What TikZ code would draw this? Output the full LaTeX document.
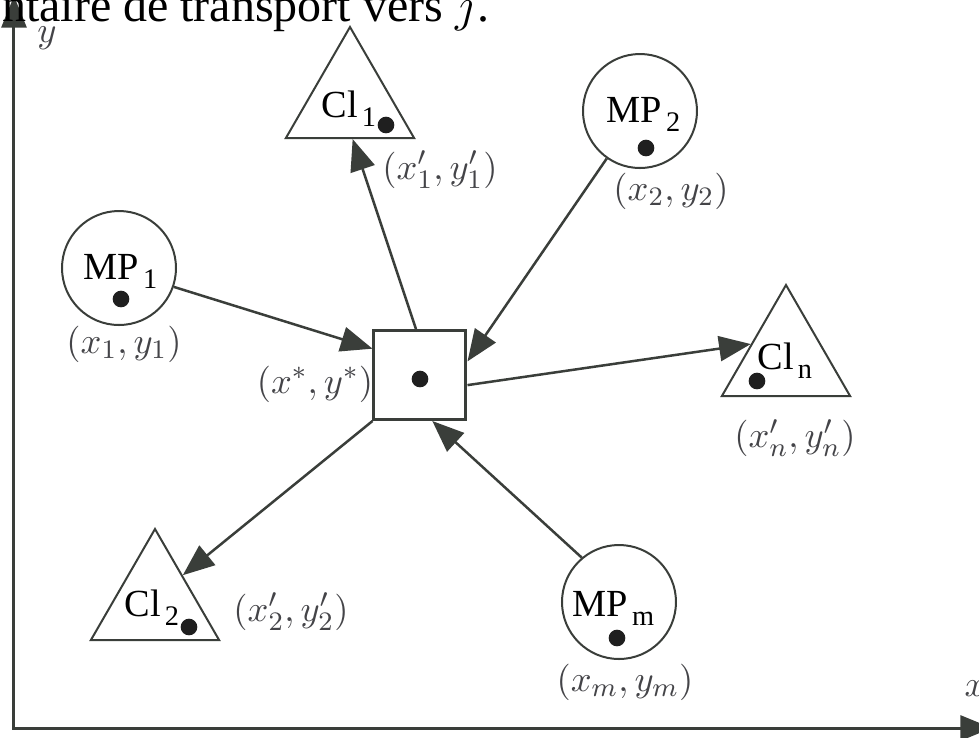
\documentclass[tikz,border=0pt]{standalone}
\usepackage{amsmath}
\usepackage[no-math]{fontspec}
\setmainfont{Liberation Serif}
\usetikzlibrary{arrows.meta, shapes.geometric, positioning}
\definecolor{strokegray}{RGB}{58,62,58}
\definecolor{labelgray}{RGB}{68,68,72}
\newcommand{\lowsub}[1]{\kern1.2pt\raisebox{-0.25em}{\fontsize{8.5}{9}\selectfont #1}}

\begin{document}
\begin{tikzpicture}[x=0.3pt, y=-0.3pt, >={Triangle[length=9.5pt,width=7.5pt]},
    site/.style={circle, draw=strokegray, line width=0.6pt, minimum size=34.2pt, inner sep=0pt},
    client/.style={regular polygon, regular polygon sides=3, draw=strokegray, line width=0.6pt, minimum size=44.4pt, inner sep=0pt},
    depot/.style={rectangle, draw=strokegray, line width=0.9pt, minimum width=27.6pt, minimum height=26.7pt, inner sep=0pt},
    spot/.style={circle, fill=black!88, inner sep=0pt, minimum size=5pt},
    tag/.style={font=\fontsize{11.5}{13}\selectfont, inner sep=0pt, anchor=base west},
    coordlabel/.style={font=\fontsize{10.95}{12}\selectfont, text=labelgray, inner sep=0pt},
    flow/.style={->, draw=strokegray, line width=0.75pt}]
    \useasboundingbox (0,0) rectangle (979,737);

    % axes
    \coordinate (origin) at (14,728);
    \coordinate (ytop) at (14,-4);
    \coordinate (xend) at (992,728);
    \draw[<->, draw=strokegray, line width=0.9pt] (ytop) |- (xend);
    \node[coordlabel] (ylabel) at (47,38) {$y$};
    \node[coordlabel] (xlabel) at (975,689) {$x$};

    % caption line cut by the frame
    \node[anchor=base east, inner sep=0pt, font=\fontsize{14.4}{16}\selectfont] (caption) at (490,21) {ntaire de transport vers $j$.};

    % shapes
    \node[site] (MP1) at (119,268) {};
    \node[site] (MP2) at (640,111) {};
    \node[site] (MPm) at (619,602) {};
    \node[client] (Cl1) at (350,101) {};
    \node[client] (Cln) at (786,359) {};
    \node[client] (Cl2) at (155,603) {};
    \node[depot] (depot) at (420,375) {};

    % names
    \node[tag] (MP1name) at (83,279) {MP\lowsub{1}};
    \node[tag] (MP2name) at (606,122) {MP\lowsub{2}};
    \node[tag] (MPmname) at (572,616) {MP\lowsub{m}};
    \node[tag] (Cl1name) at (321,117) {Cl\lowsub{1}};
    \node[tag] (Clnname) at (757,369) {Cl\lowsub{n}};
    \node[tag] (Cl2name) at (124,616) {Cl\lowsub{2}};

    % locations
    \node[spot] (MP1dot) at (121,299) {};
    \node[spot] (MP2dot) at (646,148) {};
    \node[spot] (MPmdot) at (617,638) {};
    \node[spot] (Cl1dot) at (386,125) {};
    \node[spot] (Clndot) at (757,381) {};
    \node[spot] (Cl2dot) at (189,627) {};
    \node[spot] (depotdot) at (420,379) {};

    % coordinates
    \node[coordlabel] (MP1pos) at (124,344) {$(x_1,y_1)$};
    \node[coordlabel] (MP2pos) at (671,191) {$(x_2,y_2)$};
    \node[coordlabel] (MPmpos) at (625,682) {$(x_m,y_m)$};
    \node[coordlabel] (Cl1pos) at (440,170) {$(x'_1,y'_1)$};
    \node[coordlabel] (Clnpos) at (795,438) {$(x'_n,y'_n)$};
    \node[coordlabel] (Cl2pos) at (291,612) {$(x'_2,y'_2)$};
    \node[coordlabel] (depotpos) at (315,384) {$(x^*,y^*)$};

    % flows
    \draw[flow] (MP1.-19) -- (depot.151);
    \draw[flow] (MP2.235) -- (depot.16);
    \draw[flow] (MPm.130) -- (depot.-75);
    \draw[flow] (depot.95) -- (Cl1.-86);
    \draw[flow] (depot.-12) -- (Cln.157);
    \draw[flow] (depot.south west) -- (Cl2.45);
\end{tikzpicture}
\end{document}
